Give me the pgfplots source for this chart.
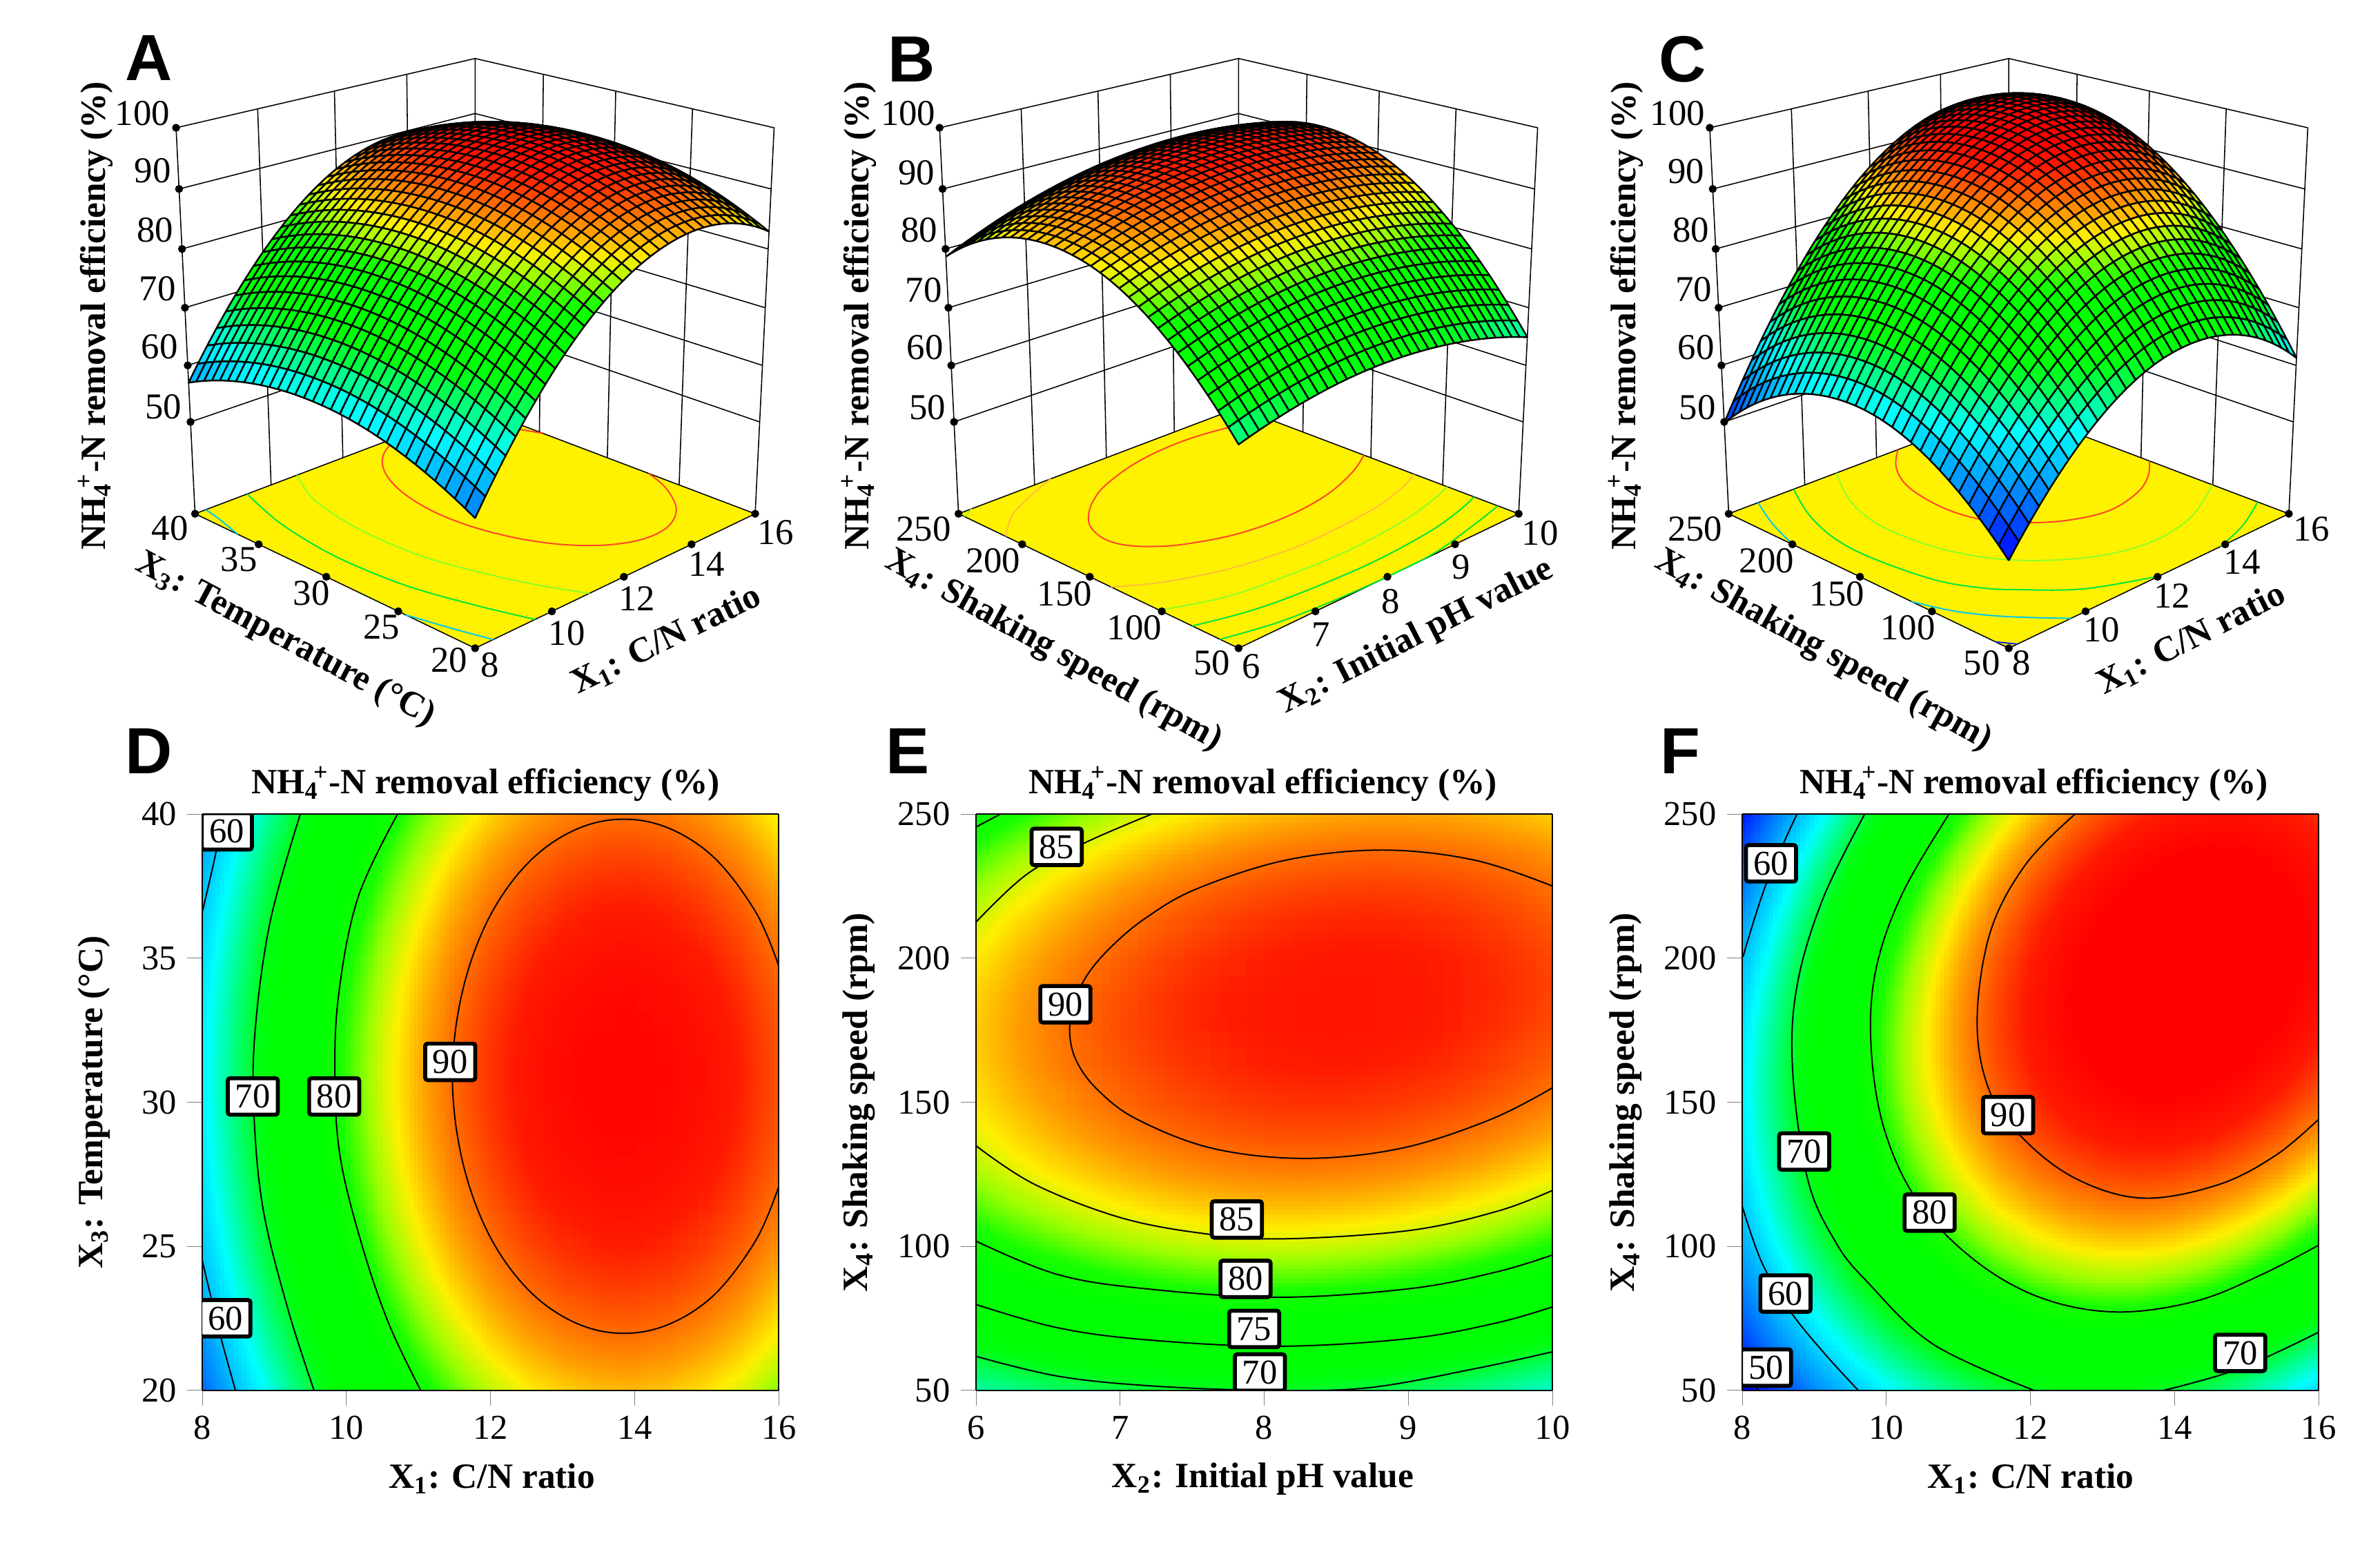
\documentclass[border=0pt]{standalone}
\usepackage{fontspec}
\setmainfont{Liberation Serif}
\newfontfamily\lettersf{Liberation Sans}
\usepackage{pgfplots}
\usepackage{pgfplotstable}
\pgfplotsset{compat=1.18}
\usepgfplotslibrary{patchplots}

% response surfaces, 4 biquadratic patches each: x y z
\pgfplotstableread{
x y z
8 20 54.49
12 20 84.05
12 30 92.08
8 30 62.52
10 20 73.11
12 25 89.77
10 30 81.14
8 25 60.21
10 25 78.83
12 20 84.05
16 20 82.90
16 30 90.93
12 30 92.08
14 20 87.32
16 25 88.62
14 30 95.35
12 25 89.77
14 25 93.04
8 30 62.52
12 30 92.08
12 40 86.50
8 40 56.94
10 30 81.14
12 35 91.00
10 40 75.56
8 35 61.44
10 35 80.06
12 30 92.08
16 30 90.93
16 40 85.35
12 40 86.50
14 30 95.35
16 35 89.85
14 40 89.77
12 35 91.00
14 35 94.27
}\tabA
\pgfplotstableread{
x y z
6 50 66.06
8 50 69.95
8 150 92.10
6 150 85.94
7 50 69.13
8 100 84.42
7 150 90.14
6 100 79.39
7 100 83.02
8 50 69.95
10 50 64.89
10 150 89.32
8 150 92.10
9 50 68.53
10 100 80.49
9 150 91.83
8 100 84.42
9 100 83.57
6 150 85.94
8 150 92.10
8 250 87.14
6 250 78.69
7 150 90.14
8 200 93.01
7 250 84.03
6 200 85.71
7 200 90.48
8 150 92.10
10 150 89.32
10 250 86.63
8 250 87.14
9 150 91.83
10 200 91.36
9 250 88.00
8 200 93.01
9 200 93.30
}\tabB
\pgfplotstableread{
x y z
8 50 47.70
12 50 70.24
12 150 92.26
8 150 62.45
10 50 62.90
12 100 84.67
10 150 81.29
8 100 58.50
10 100 75.52
12 50 70.24
16 50 61.26
16 150 90.57
12 150 92.26
14 50 69.69
16 100 79.34
14 150 95.35
12 100 84.67
14 100 85.95
8 150 62.45
12 150 92.26
12 250 86.89
8 250 49.79
10 150 81.29
12 200 93.00
10 250 72.28
8 200 59.55
10 200 80.21
12 150 92.26
16 150 90.57
16 250 92.47
12 250 86.89
14 150 95.35
16 200 94.94
14 250 93.62
12 200 93.00
14 200 97.91
}\tabC

% contour lines read off panels D, E, F
\pgfplotstableread{
x y
16 34.72
15.67 36.64
15.04 38.63
14.26 39.69
13.44 39.69
12.66 38.63
12.03 36.64
11.62 33.95
11.47 30.9
11.62 27.85
12.03 25.16
12.66 23.17
13.44 22.11
14.26 22.11
15.04 23.17
15.67 25.16
16 27.08
}\Dninety
\pgfplotstableread{
x y
10.71 40
10.16 37.1
9.89 33.7
9.84 30.7
9.92 28
10.22 25
10.59 22.3
11.03 20
}\Deighty
\pgfplotstableread{
x y
9.36 40
8.94 36.25
8.73 32.4
8.72 29.4
8.85 26.2
9.19 22.8
9.55 20
}\Dseventy
\pgfplotstableread{
x y
8.27 40
8.2 38.8
8 36.6
}\Dsixtya
\pgfplotstableread{
x y
8 24.5
8.24 22
8.46 20
}\Dsixtyb
\pgfplotstableread{
x y
10 225
9.46 234
8.82 237.5
8.15 234
7.53 224
7.18 214
6.94 204
6.77 194
6.68 184
6.65 174
6.7 164
6.85 154
7.12 144
7.64 134
8.28 130.5
8.95 134
9.57 144
10 155
}\Eninety
\pgfplotstableread{
x y
6 134.9
6.41 121.4
7.02 109.7
7.63 104.1
8.15 102.6
9.01 105.5
9.62 112.2
10 119.4
}\Eeightyfivea
\pgfplotstableread{
x y
6 212.5
6.35 229
6.75 239.9
7.22 250
}\Eeightyfiveb
\pgfplotstableread{
x y
6 101.8
6.56 90.3
7.17 85.3
8.09 82.3
9.01 85.3
9.62 91.2
10 97
}\Eeightya
\pgfplotstableread{
x y
6 245.5
6.17 250
}\Eeightyb
\pgfplotstableread{
x y
6 79.8
6.56 71.8
7.17 67.6
8.09 65.3
9.01 68
9.62 73.5
10 79
}\Eseventyfive
\pgfplotstableread{
x y
6 61.8
6.56 55
7.17 51.7
7.94 50.1
8.7 50.8
9.47 57.6
10 63.4
}\Eseventy
\pgfplotstableread{
x y
12.62 250
11.93 232.4
11.44 208.8
11.26 177.7
11.44 153.4
11.93 136.6
12.66 123.1
13.57 116.7
14.61 121.4
15.4 131.5
16 144.1
}\Fninety
\pgfplotstableread{
x y
10.87 250
10.22 222.3
9.85 195.4
9.79 168.5
9.98 139.9
10.46 114.7
11.26 94.5
12.17 81.9
13.2 77.2
14.3 81
15.22 90.3
16 100.4
}\Feighty
\pgfplotstableread{
x y
9.7 250
9.12 220.6
8.76 190.3
8.7 160.9
8.91 123.1
9.3 101.3
9.73 87.8
10.65 66
12.05 50
}\Fseventya
\pgfplotstableread{
x y
13.85 50
14.91 57.6
16 70.2
}\Fseventyb
\pgfplotstableread{
x y
8.76 250
8.33 225.6
8.01 200.4
}\Fsixtya
\pgfplotstableread{
x y
8 113.9
8.27 94.5
8.66 77.7
9.12 63.4
9.61 50
}\Fsixtyb
\pgfplotstableread{
x y
8 58.4
8.22 50
}\Ffifty

% box of the 3D panels in unit coordinates
\pgfplotstableread{
a b c
0 0 0
1 0 0
1 1 0
0 1 0
}\floortab
\pgfplotstableread{
a b c
0 1 0
0 1 1
.25 1 1
.25 1 0
.5 1 0
.5 1 1
.75 1 1
.75 1 0
1 1 0
1 1 1
1 .75 1
1 .75 0
1 .5 0
1 .5 1
1 .25 1
1 .25 0
1 0 0
1 0 1
1 0 .85
1 1 .85
0 1 .85
0 1 .7
1 1 .7
1 0 .7
1 0 .55
1 1 .55
0 1 .55
0 1 .4
1 1 .4
1 0 .4
1 0 .25
1 1 .25
0 1 .25
0 1 0
0 0 0
1 0 0
1 0 1
1 1 1
0 1 1
0 1 0
1 1 0
1 0 0
}\frametab
\pgfplotstableread{
a b c
0 0 0
.25 0 0
.5 0 0
.75 0 0
1 0 0
0 .25 0
0 .5 0
0 .75 0
0 1 0
0 1 .25
0 1 .4
0 1 .55
0 1 .7
0 1 .85
0 1 1
}\dottab

% perspective of the reference's 3D boxes, canvas units (1568 x 1015)
\newcommand\PX[3]{\cx+209.2*((#1)-(#2))/(1+.1338*((#1)+(#2))-.0719*(#3))}
\newcommand\PY[3]{1015-(427-43.3*((#1)+(#2))-294.3*(#3))/(1+.1338*((#1)+(#2))-.0719*(#3))}
\newcommand\PD[3]{-.1338*((#1)+(#2))+.0719*(#3)}

\pgfplotsset{
  colormap={rsm}{rgb255=(0,0,255) rgb255=(0,42,255) rgb255=(0,85,255) rgb255=(0,128,255)
    rgb255=(0,170,255) rgb255=(0,212,255) rgb255=(0,255,255) rgb255=(0,255,176)
    rgb255=(0,255,96) rgb255=(0,255,16) rgb255=(0,255,0) rgb255=(0,255,0)
    rgb255=(0,255,0) rgb255=(25,255,0) rgb255=(153,255,0) rgb255=(255,239,0)
    rgb255=(255,160,0) rgb255=(255,90,0) rgb255=(255,26,0) rgb255=(255,0,0) rgb255=(255,0,0)},
  canvas/.style={at={(0,0)},anchor=south west,scale only axis,width=784pt,height=507.5pt,
    xmin=0,xmax=1568,ymin=0,ymax=1015,hide axis,clip=false},
  table/unitxy/.style={x expr={\PX{\thisrow{a}}{\thisrow{b}}{\thisrow{c}}},
    y expr={\PY{\thisrow{a}}{\thisrow{b}}{\thisrow{c}}}},
  heat/.style={at={(#1*0.5pt,49.6pt)},anchor=south west,scale only axis,
    width=189.9pt,height=189.8pt,view={0}{90},
    tick align=outside,xtick pos=left,ytick pos=left,
    major tick length=5pt,axis on top,
    tick label style={font=\fontsize{11.5}{13}\selectfont},
    /pgf/number format/assume math mode=true,
    point meta min=48,point meta max=98},
  heatlines/.style={at={(#1*0.5pt,49.6pt)},anchor=south west,scale only axis,
    width=189.9pt,height=189.8pt,hide axis},
  contour/.style={black,line width=.45pt,smooth,tension=.6},
}
\newcommand\lab[4][]{\node[inner sep=0pt,font=\fontsize{12}{14}\selectfont,#1] at ({#2*0.5pt},{(1015-#3)*0.5pt}) {#4};}
\newcommand\blab[4][]{\lab[font=\fontsize{11.7}{13}\selectfont\bfseries,#1]{#2}{#3}{#4}}
\newcommand\nh{NH\textsubscript{4}\kern-.15em\textsuperscript{+}-N}
\newcommand\level[2]{\node[draw,fill=white,line width=1.3pt,rounded corners=.8pt,inner sep=0pt,
  minimum width=16.5pt,minimum height=12pt,font=\fontsize{11.5}{13}\selectfont] at (axis cs:#1) {#2};}
\newcommand\floorline[2]{\addplot[#2,line width=.45pt,smooth,tension=.6] table[
  x expr={\PX{(\thisrow{x}-\xa)/\xr}{(\thisrow{y}-\ya)/\yr}{0}},
  y expr={\PY{(\thisrow{x}-\xa)/\xr}{(\thisrow{y}-\ya)/\yr}{0}}]{#1};}
\newcommand\boxbase{%
  \addplot[draw=none,fill=yellow] table[unitxy]{\floortab};
  \addplot[black,line width=.35pt] table[unitxy]{\frametab};
  \addplot[only marks,mark=*,mark size=1.1pt,black] table[unitxy]{\dottab};
}
\newcommand\surface[1]{%
  \begin{axis}[canvas,view={0}{90},point meta min=48,point meta max=98]
  \addplot3[patch,patch type=biquadratic,patch refines=4,shader=faceted,
    faceted color=black,line width=.55pt,z buffer=sort,point meta=explicit]
    table[x expr={\PX{(\thisrow{x}-\xa)/\xr}{(\thisrow{y}-\ya)/\yr}{(\thisrow{z}-33.3)/66.7}},
      y expr={\PY{(\thisrow{x}-\xa)/\xr}{(\thisrow{y}-\ya)/\yr}{(\thisrow{z}-33.3)/66.7}},
      z expr={\PD{(\thisrow{x}-\xa)/\xr}{(\thisrow{y}-\ya)/\yr}{(\thisrow{z}-33.3)/66.7}},
      meta=z]{#1};
  \end{axis}}
\definecolor{c90}{RGB}{255,70,40}
\definecolor{c85}{RGB}{255,190,60}
\definecolor{c80}{RGB}{140,255,40}
\definecolor{c70}{RGB}{0,230,60}
\definecolor{c60}{RGB}{0,200,235}
\definecolor{c50}{RGB}{20,40,230}

\begin{document}
\begin{tikzpicture}
\useasboundingbox (0,0) rectangle (784pt,507.5pt);

% ---- A
\def\cx{313}\def\xa{8}\def\xr{8}\def\ya{20}\def\yr{20}
\begin{axis}[canvas]
\boxbase
\floorline{\Dninety}{c90}
\floorline{\Deighty}{c80}
\floorline{\Dseventy}{c70}
\floorline{\Dsixtya}{c60}
\floorline{\Dsixtyb}{c60}
\end{axis}
\surface{\tabA}
\lab{93.8}{74.8}{100}\lab{100.6}{112.6}{90}\lab{102.2}{151.7}{80}
\lab{103.7}{190.1}{70}\lab{105.2}{228.6}{60}\lab{107.7}{267.9}{50}
\lab{112}{347.8}{40}\lab{157.5}{368.5}{35}\lab{205.2}{390.7}{30}\lab{251.3}{412.9}{25}\lab{295.9}{435}{20}
\lab{322.9}{438}{8}\lab{373.4}{417.3}{10}\lab{419.5}{394.2}{12}\lab{465.6}{371.5}{14}\lab{511.1}{350.8}{16}
\blab[rotate=-28]{188}{421.7}{X\textsubscript{3}: Temperature (°C)}
\blab[rotate=26]{439}{421.7}{X\textsubscript{1}: C/N ratio}
\blab[rotate=90]{63}{208}{\nh{} removal efficiency (\%)}
\node[font=\fontsize{21.5}{24}\selectfont\lettersf\bfseries,inner sep=0pt] at ({98*0.5pt},{(1015-38)*0.5pt}) {A};

% ---- B
\def\cx{816}\def\xa{6}\def\xr{4}\def\ya{50}\def\yr{200}
\begin{axis}[canvas]
\boxbase
\floorline{\Eninety}{c90}
\floorline{\Eeightyfivea}{c85}
\floorline{\Eeightyfiveb}{c85}
\floorline{\Eeightya}{c80}
\floorline{\Eeightyb}{c80}
\floorline{\Eseventyfive}{c70}
\floorline{\Eseventy}{c70}
\end{axis}
\surface{\tabB}
\lab{598.3}{74.6}{100}\lab{603.8}{113.7}{90}\lab{605.7}{151.5}{80}
\lab{608.5}{191.1}{70}\lab{609.5}{229}{60}\lab{611.1}{268.3}{50}
\lab{608.5}{348.3}{250}\lab{654.2}{369.5}{200}\lab{701.4}{391}{150}\lab{747.3}{413.5}{100}\lab{798.4}{436.5}{50}
\lab{824.2}{439}{6}\lab{870.4}{418.1}{7}\lab{916.4}{396}{8}\lab{962.6}{373.5}{9}\lab{1014.6}{351.4}{10}
\blab[rotate=-29]{694}{428.8}{X\textsubscript{4}: Shaking speed (rpm)}
\blab[rotate=27]{933.3}{419.6}{X\textsubscript{2}: Initial pH value}
\blab[rotate=90]{566}{208}{\nh{} removal efficiency (\%)}
\node[font=\fontsize{21.5}{24}\selectfont\lettersf\bfseries,inner sep=0pt] at ({600.6*0.5pt},{(1015-38.9)*0.5pt}) {B};

% ---- C
\def\cx{1323.4}\def\xa{8}\def\xr{8}\def\ya{50}\def\yr{200}
\begin{axis}[canvas]
\boxbase
\floorline{\Fninety}{c90}
\floorline{\Feighty}{c80}
\floorline{\Fseventya}{c70}
\floorline{\Fseventyb}{c70}
\floorline{\Fsixtya}{c60}
\floorline{\Fsixtyb}{c60}
\floorline{\Ffifty}{c50}
\end{axis}
\surface{\tabC}
\lab{1105.3}{74.6}{100}\lab{1110.9}{112.7}{90}\lab{1114.1}{151.5}{80}
\lab{1115.7}{190.5}{70}\lab{1117.4}{229}{60}\lab{1118.3}{268.3}{50}
\lab{1116.7}{348.3}{250}\lab{1163.8}{369.5}{200}\lab{1210.3}{391.3}{150}\lab{1257}{413.5}{100}\lab{1305.7}{436.5}{50}
\lab{1332}{436.5}{8}\lab{1384.7}{415}{10}\lab{1431}{392.6}{12}\lab{1477.2}{370.4}{14}\lab{1522.7}{348.3}{16}
\blab[rotate=-29]{1201.2}{428.8}{X\textsubscript{4}: Shaking speed (rpm)}
\blab[rotate=27]{1443.8}{421.2}{X\textsubscript{1}: C/N ratio}
\blab[rotate=90]{1071}{208}{\nh{} removal efficiency (\%)}
\node[font=\fontsize{21.5}{24}\selectfont\lettersf\bfseries,inner sep=0pt] at ({1108.6*0.5pt},{(1015-38.9)*0.5pt}) {C};

% ---- D
\begin{axis}[heat=133.3,xmin=8,xmax=16,ymin=20,ymax=40,xtick={8,10,...,16},ytick={20,25,...,40}]
\addplot3[patch,patch type=biquadratic,patch refines=3,shader=interp,point meta=explicit]
  table[x=x,y=y,z=z,meta=z]{\tabA};
\end{axis}
\begin{axis}[heatlines=133.3,xmin=8,xmax=16,ymin=20,ymax=40]
\addplot[contour] table[x=x,y=y]{\Dninety};
\addplot[contour] table[x=x,y=y]{\Deighty};
\addplot[contour] table[x=x,y=y]{\Dseventy};
\addplot[contour] table[x=x,y=y]{\Dsixtya};
\addplot[contour] table[x=x,y=y]{\Dsixtyb};
\level{8.34,39.4}{60}\level{8.70,30.2}{70}\level{9.83,30.2}{80}\level{11.44,31.4}{90}\level{8.32,22.5}{60}
\end{axis}
\blab{320}{516.4}{\nh{} removal efficiency (\%)}
\blab{324}{974}{X\textsubscript{1}: C/N ratio}
\blab[rotate=90]{62}{726}{X\textsubscript{3}: Temperature (°C)}
\node[font=\fontsize{21.5}{24}\selectfont\lettersf\bfseries,inner sep=0pt] at ({98*0.5pt},{(1015-495)*0.5pt}) {D};

% ---- E
\begin{axis}[heat=643,xmin=6,xmax=10,ymin=50,ymax=250,xtick={6,7,...,10},ytick={50,100,...,250}]
\addplot3[patch,patch type=biquadratic,patch refines=3,shader=interp,point meta=explicit]
  table[x=x,y=y,z=z,meta=z]{\tabB};
\end{axis}
\begin{axis}[heatlines=643,xmin=6,xmax=10,ymin=50,ymax=250]
\addplot[contour] table[x=x,y=y]{\Eninety};
\addplot[contour] table[x=x,y=y]{\Eeightyfivea};
\addplot[contour] table[x=x,y=y]{\Eeightyfiveb};
\addplot[contour] table[x=x,y=y]{\Eeightya};
\addplot[contour] table[x=x,y=y]{\Eeightyb};
\addplot[contour] table[x=x,y=y]{\Eseventyfive};
\addplot[contour] table[x=x,y=y]{\Eseventy};
\level{6.56,238.6}{85}\level{6.62,184}{90}\level{7.81,109.3}{85}\level{7.87,88.7}{80}\level{7.93,71.3}{75}\level{7.97,56.2}{70}
\end{axis}
\blab{832}{516.4}{\nh{} removal efficiency (\%)}
\blab{832}{974}{X\textsubscript{2}: Initial pH value}
\blab[rotate=90]{566}{726}{X\textsubscript{4}: Shaking speed (rpm)}
\node[font=\fontsize{21.5}{24}\selectfont\lettersf\bfseries,inner sep=0pt] at ({598*0.5pt},{(1015-495)*0.5pt}) {E};

% ---- F
\begin{axis}[heat=1147.8,xmin=8,xmax=16,ymin=50,ymax=250,xtick={8,10,...,16},ytick={50,100,...,250}]
\addplot3[patch,patch type=biquadratic,patch refines=3,shader=interp,point meta=explicit]
  table[x=x,y=y,z=z,meta=z]{\tabC};
\end{axis}
\begin{axis}[heatlines=1147.8,xmin=8,xmax=16,ymin=50,ymax=250]
\addplot[contour] table[x=x,y=y]{\Fninety};
\addplot[contour] table[x=x,y=y]{\Feighty};
\addplot[contour] table[x=x,y=y]{\Fseventya};
\addplot[contour] table[x=x,y=y]{\Fseventyb};
\addplot[contour] table[x=x,y=y]{\Fsixtya};
\addplot[contour] table[x=x,y=y]{\Fsixtyb};
\addplot[contour] table[x=x,y=y]{\Ffifty};
\level{8.4,232.9}{60}\level{8.86,132.9}{70}\level{11.69,145.5}{90}\level{10.6,111.7}{80}\level{8.6,83.6}{60}\level{8.33,57.9}{50}\level{14.91,63}{70}
\end{axis}
\blab{1340}{516.4}{\nh{} removal efficiency (\%)}
\blab{1338}{974}{X\textsubscript{1}: C/N ratio}
\blab[rotate=90]{1071}{726}{X\textsubscript{4}: Shaking speed (rpm)}
\node[font=\fontsize{21.5}{24}\selectfont\lettersf\bfseries,inner sep=0pt] at ({1107*0.5pt},{(1015-495)*0.5pt}) {F};
\end{tikzpicture}
\end{document}
